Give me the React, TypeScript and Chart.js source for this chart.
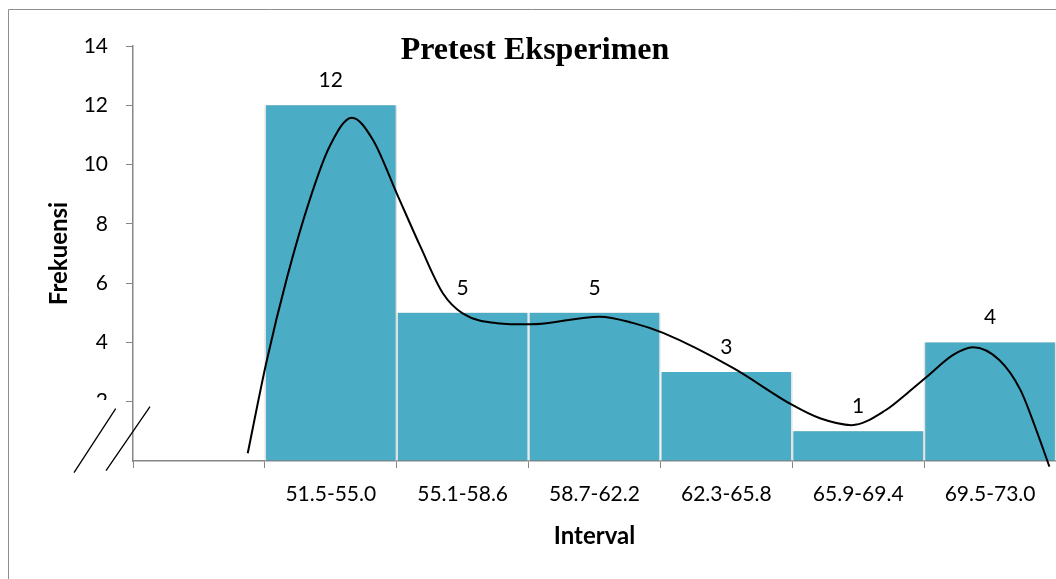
import React, { useEffect, useRef } from "react";
import { Chart, registerables } from "chart.js";

Chart.register(...registerables);

const categories = ["", "51.5-55.0", "55.1-58.6", "58.7-62.2", "62.3-65.8", "65.9-69.4", "69.5-73.0"];
const frequencies = [null, 12, 5, 5, 3, 1, 4];
const yTicks = [0, 2, 4, 6, 8, 10, 12, 14];
const curveX = [0.37, 0.51, 0.67, 0.84, 0.99, 1.16, 1.32, 1.5, 1.68, 1.85, 2.0, 2.26, 2.51, 3.04, 3.29, 3.52, 4.05, 4.5, 4.71, 4.95, 5.21, 5.37, 5.52, 5.72, 5.87, 6.07, 6.23, 6.35, 6.45];
const curveY = [0.26, 3.3, 6.22, 8.81, 10.6, 11.58, 10.83, 9.03, 7.23, 5.66, 4.98, 4.65, 4.61, 4.87, 4.66, 4.32, 3.14, 1.89, 1.44, 1.21, 1.72, 2.28, 2.84, 3.58, 3.84, 3.41, 2.4, 1.05, -0.19];

const TITLE = "Pretest Eksperimen";
const X_TITLE = "Interval";
const Y_TITLE = "Frekuensi";
const BAR_COLOR = "#4BACC6";
const AXIS_COLOR = "#868686";
const FONT = "Lato";

export default function App() {
  const ref = useRef<HTMLCanvasElement | null>(null);

  useEffect(() => {
    if (!ref.current) return;
    const decor = {
      id: "decor",
      beforeDraw(chart: any) {
        const ctx = chart.ctx;
        ctx.save();
        ctx.strokeStyle = "#8e8e8e";
        ctx.lineWidth = 1;
        ctx.beginPath();
        ctx.moveTo(0.5, chart.height + 10);
        ctx.lineTo(0.5, 1.5);
        ctx.lineTo(chart.width + 10, 1.5);
        ctx.stroke();
        ctx.restore();
      },
      beforeDatasetDraw(chart: any, args: any) {
        if (args.index === 0) {
          const ctx = chart.ctx;
          ctx.save();
          ctx.shadowColor = "rgba(0,0,0,0.3)";
          ctx.shadowBlur = 3;
        }
      },
      afterDatasetDraw(chart: any, args: any) {
        if (args.index === 0) chart.ctx.restore();
      },
      afterDraw(chart: any) {
        const ctx = chart.ctx;
        const area = chart.chartArea;
        const y = chart.scales.y;
        const L = area.left;
        const B = y.getPixelForValue(0);
        ctx.save();
        ctx.fillStyle = "#000";
        ctx.font = "bold 32px 'Liberation Serif'";
        ctx.textAlign = "center";
        ctx.textBaseline = "alphabetic";
        ctx.fillText(TITLE, 527, 51);
        const meta = chart.getDatasetMeta(0);
        ctx.font = `21px ${FONT}`;
        ctx.textBaseline = "middle";
        meta.data.forEach((bar: any, i: number) => {
          const v = frequencies[i];
          if (v == null) return;
          ctx.fillText(String(v), bar.x, bar.y - 25);
        });
        ctx.fillStyle = "#fff";
        ctx.fillRect(L - 63, B - 61, 54, 70);
        ctx.strokeStyle = "#000";
        ctx.lineWidth = 1.3;
        ctx.beginPath();
        ctx.moveTo(L - 59, B + 11.7);
        ctx.lineTo(L - 17.3, B - 52.3);
        ctx.moveTo(L - 27, B + 9.7);
        ctx.lineTo(L + 17, B - 54.3);
        ctx.stroke();
        ctx.restore();
      },
    };

    const chart = new Chart(ref.current, {
      type: "bar",
      data: {
        labels: categories,
        datasets: [
          {
            type: "bar",
            data: frequencies as any,
            xAxisID: "x",
            yAxisID: "y",
            backgroundColor: BAR_COLOR,
            borderColor: "#ffffff",
            borderWidth: { left: 1.5, right: 1.5, top: 0, bottom: 0 },
            borderSkipped: false,
            barPercentage: 1,
            categoryPercentage: 1,
            grouped: false,
            order: 1,
          } as any,
          {
            type: "line",
            data: curveX.map((x, i) => ({ x, y: curveY[i] })),
            xAxisID: "xc",
            yAxisID: "y",
            borderColor: "#000",
            borderWidth: 2,
            pointRadius: 0,
            cubicInterpolationMode: "monotone",
            fill: false,
            clip: false,
            order: 0,
          } as any,
        ],
      },
      options: {
        responsive: false,
        animation: false,
        layout: { padding: { left: 0, right: 0, top: 38, bottom: 0 } },
        plugins: { legend: { display: false }, tooltip: { enabled: false }, title: { display: false } },
        scales: {
          x: {
            type: "category",
            offset: true,
            grid: { drawOnChartArea: false, drawTicks: true, tickLength: 7, color: AXIS_COLOR, offset: true },
            border: { display: true, color: AXIS_COLOR, width: 1.5 },
            ticks: { color: "#000", font: { family: FONT, size: 21 }, padding: 14, maxRotation: 0, autoSkip: false },
            title: { display: true, text: X_TITLE, color: "#000", font: { family: FONT, size: 24, weight: "bold" }, padding: { top: 0, bottom: 28 } },
            afterFit: (s: any) => { s.height = 118; },
          },
          xc: {
            type: "linear",
            display: false,
            offset: false,
            grid: { offset: false },
            min: -0.5,
            max: 6.5,
          },
          y: {
            type: "linear",
            min: 0,
            max: 14,
            afterBuildTicks: (s: any) => { s.ticks = yTicks.map((v) => ({ value: v })); },
            grid: {
              drawOnChartArea: false,
              drawTicks: true,
              tickLength: 7,
              color: (c: any) => (c.tick && c.tick.value === 0 ? "rgba(0,0,0,0)" : AXIS_COLOR),
            },
            border: { display: true, color: AXIS_COLOR, width: 1.5 },
            ticks: {
              color: "#000",
              font: { family: FONT, size: 21 },
              padding: 18,
              callback: (v: any) => (v === 0 ? "" : String(v)),
            },
            title: { display: true, text: Y_TITLE, color: "#000", font: { family: FONT, size: 24, weight: "bold" }, padding: { top: 37, bottom: 0 } },
            afterFit: (s: any) => { s.width = 125; },
          },
        },
      } as any,
      plugins: [decor],
    });
    return () => chart.destroy();
  }, []);

  return (
    <div style={{ position: "fixed", left: 8, top: 8, width: 1048, height: 571, overflow: "hidden", background: "#fff" }}>
      <canvas ref={ref} width={1048} height={571} style={{ display: "block" }} />
    </div>
  );
}
